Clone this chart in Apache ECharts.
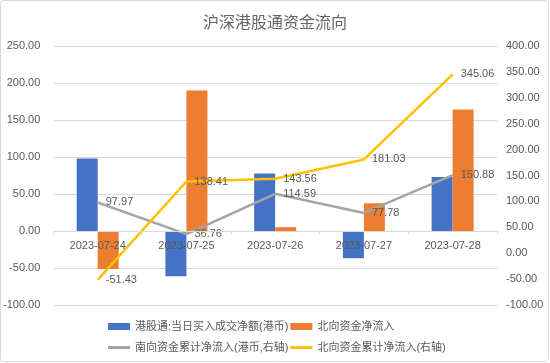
<!DOCTYPE html>
<html><head><meta charset="utf-8">
<script src="https://cdn.jsdelivr.net/npm/echarts@6/dist/echarts.min.js"></script>
<style>html,body{margin:0;padding:0;background:#fff}#c{width:550px;height:363px}</style>
</head><body><div id="c"></div>
<script>
const categories = ['2023-07-24','2023-07-25','2023-07-26','2023-07-27','2023-07-28'];
const southDaily = [97.97, -61.21, 77.83, -36.81, 73.10];
const northDaily = [-51.43, 189.84, 5.15, 37.47, 164.03];
const southCum = [97.97, 36.76, 114.59, 77.78, 150.88];
const northCum = [-51.43, 138.41, 143.56, 181.03, 345.06];
const names = ['港股通:当日买入成交净额(港币)','北向资金净流入','南向资金累计净流入(港币,右轴)','北向资金累计净流入(右轴)'];

const FONT = '"Liberation Sans", "Noto Sans CJK SC", sans-serif';
const TXT = '#595959';
const chart = echarts.init(document.getElementById('c'), null, {renderer:'canvas'});
const lbl = {show:true, position:'right', distance:8, color:TXT, fontSize:11, fontFamily:FONT,
  formatter: p => p.value.toFixed(2)};
chart.setOption({
  animation:false,
  textStyle:{fontFamily:FONT},
  title:{text:'沪深港股通资金流向', left:'center', top:11,
    textStyle:{fontSize:16, fontWeight:'normal', color:'#666', fontFamily:FONT}},
  graphic:[{type:'rect', shape:{x:0.5,y:0.5,width:548,height:361,r:3}, style:{fill:'none', stroke:'#d9d9d9', lineWidth:1}, silent:true}],
  legend:[
    {data:[names[0],names[1]], left:103, top:316, itemWidth:22, itemHeight:7, itemGap:2, icon:'rect',
      textStyle:{color:TXT, fontSize:11, fontFamily:FONT}},
    {data:[names[2],names[3]], left:103, top:337, itemWidth:22, itemHeight:3, itemGap:2, icon:'rect',
      textStyle:{color:TXT, fontSize:11, fontFamily:FONT}}
  ],
  grid:{left:53, right:53, top:46, bottom:58},
  xAxis:{type:'category', data:categories, position:'bottom', offset:-74, z:10,
    axisLine:{onZero:false, lineStyle:{color:'#d9d9d9'}},
    axisTick:{show:true, alignWithLabel:false, length:4, lineStyle:{color:'#d9d9d9'}},
    axisLabel:{color:TXT, fontSize:11, margin:9, fontFamily:FONT}},
  yAxis:[
    {type:'value', min:-100, max:250, interval:50,
      axisLabel:{color:TXT, fontSize:11, margin:13, fontFamily:FONT, formatter:v=>v.toFixed(2)},
      axisLine:{show:false}, axisTick:{show:false},
      splitLine:{lineStyle:{color:'#d9d9d9'}}},
    {type:'value', min:-100, max:400, interval:50,
      axisLabel:{color:TXT, fontSize:11, margin:9, fontFamily:FONT, formatter:v=>v.toFixed(2)},
      axisLine:{show:false}, axisTick:{show:false}, splitLine:{show:false}}
  ],
  series:[
    {name:names[0], type:'bar', data:southDaily, barWidth:21, barGap:'0%', itemStyle:{color:'#4472C4'}},
    {name:names[1], type:'bar', data:northDaily, barWidth:21, barGap:'0%', itemStyle:{color:'#ED7D31'}},
    {name:names[2], type:'line', yAxisIndex:1, data:southCum, symbol:'circle', symbolSize:0.1, showSymbol:true, lineStyle:{color:'#A5A5A5', width:2.5}, itemStyle:{color:'#A5A5A5'}, label:lbl, z:5},
    {name:names[3], type:'line', yAxisIndex:1, data:northCum, symbol:'circle', symbolSize:0.1, showSymbol:true, lineStyle:{color:'#FFC000', width:2.5}, itemStyle:{color:'#FFC000'}, label:lbl, z:5}
  ]
});
</script></body></html>
